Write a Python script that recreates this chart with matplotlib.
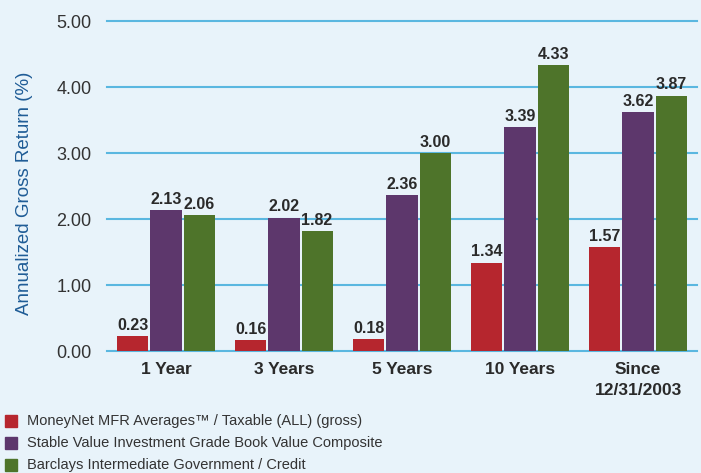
import matplotlib
matplotlib.use('Agg')
import matplotlib.pyplot as plt
from matplotlib.patches import Rectangle
import numpy as np

plt.rcParams['font.family'] = ['Liberation Sans', 'DejaVu Sans']

periods = ['1 Year', '3 Years', '5 Years', '10 Years', 'Since\n12/31/2003']
series = ['MoneyNet MFR Averages™ / Taxable (ALL) (gross)',
          'Stable Value Investment Grade Book Value Composite',
          'Barclays Intermediate Government / Credit']
moneynet = [0.23, 0.16, 0.18, 1.34, 1.57]
stable_value = [2.13, 2.02, 2.36, 3.39, 3.62]
barclays = [2.06, 1.82, 3.00, 4.33, 3.87]
yticks = [0, 1, 2, 3, 4, 5]

colors = ['#b6262e', '#5d376c', '#4e742a']
bg = '#e8f3fa'

fig = plt.figure(figsize=(7.01, 4.73), dpi=100, facecolor=bg)
ax = fig.add_axes([107 / 701, 1 - 351 / 473, 590 / 701, 330 / 473])
ax.set_facecolor(bg)

x = np.arange(len(periods))
w = 0.263
step = 0.28
for i, vals in enumerate([moneynet, stable_value, barclays]):
    pos = x + (i - 1) * step
    ax.bar(pos, vals, width=w, color=colors[i], zorder=3)
    for p, v in zip(pos, vals):
        ax.text(p, v + 0.05, '%.2f' % v, ha='center', va='bottom',
                fontsize=11.5, fontweight='bold', color='#2a2a2a', zorder=4)

ax.set_xlim(-0.5, len(periods) - 0.5)
ax.set_ylim(0, 5)
ax.set_yticks(yticks)
ax.set_yticklabels(['%.2f' % t for t in yticks], fontsize=13, color='#333333')
ax.yaxis.grid(True, color='#5ab7e0', linewidth=1.5, zorder=0)
for ln in ax.yaxis.get_gridlines():
    ln.set_clip_on(False)
ax.set_axisbelow(True)
ax.set_xticks(x)
ax.set_xticklabels(periods, fontsize=12.5, fontweight='bold', color='#2a2a2a',
                   va='top', linespacing=1.5)
ax.tick_params(axis='both', length=0)
ax.tick_params(axis='y', pad=11)
ax.tick_params(axis='x', pad=8)
for s in ax.spines.values():
    s.set_visible(False)
ax.set_ylabel('Annualized Gross Return (%)', fontsize=13.5, color='#1f5c96')
ax.yaxis.set_label_coords(-0.125, 0.477)

# legend
for i, name in enumerate(series):
    yc = 1 - (421 + 22 * i) / 473
    fig.add_artist(Rectangle((5 / 701, yc - 5.5 / 473), 12 / 701, 12 / 473,
                             transform=fig.transFigure, color=colors[i]))
    fig.text(27 / 701, yc, name, fontsize=10.5, color='#333333', va='center')

fig.savefig('out.png', dpi=100, facecolor=bg)
